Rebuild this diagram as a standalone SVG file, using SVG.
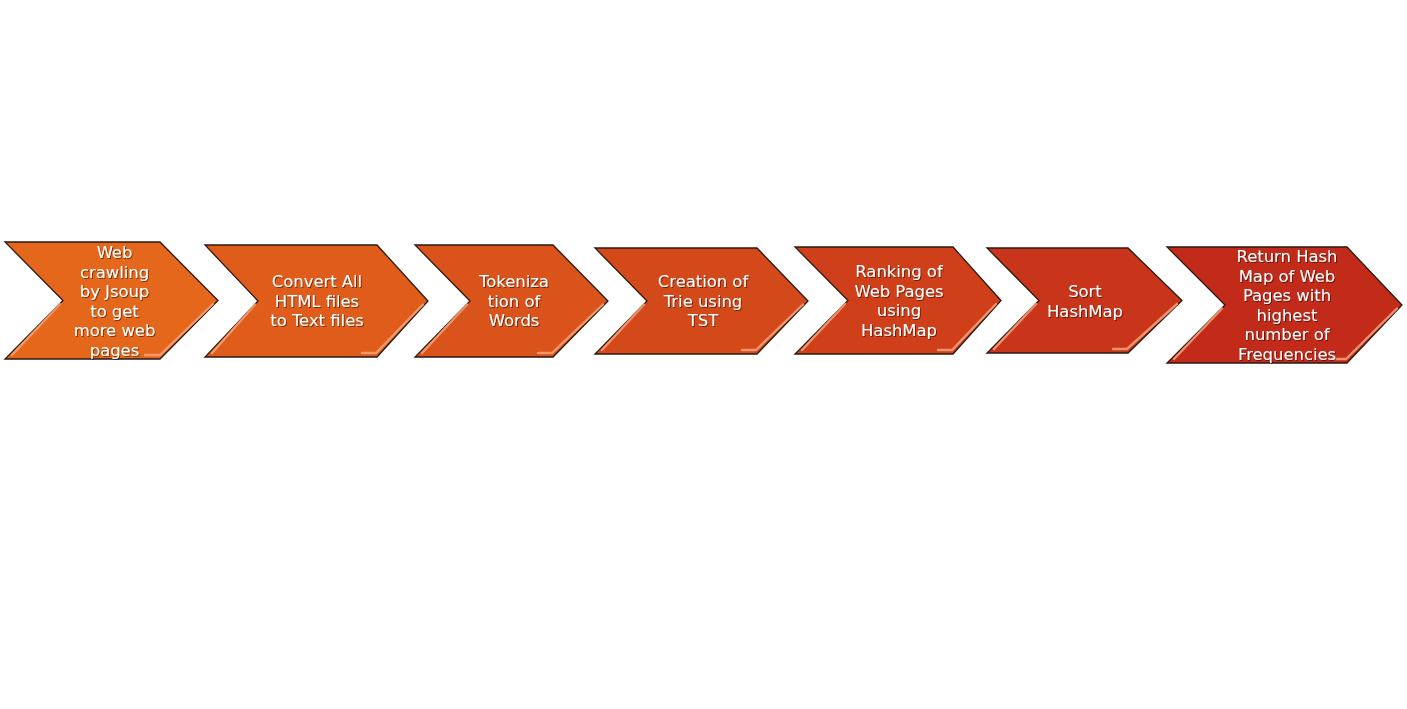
<svg xmlns="http://www.w3.org/2000/svg" width="1407" height="709" viewBox="0 0 1407 709">
<defs>
<filter id="ts" x="-10%" y="-10%" width="120%" height="130%">
<feDropShadow dx="1" dy="1" stdDeviation="0.6" flood-color="#000" flood-opacity="0.5"/>
</filter>
<style>
.chev{stroke:#2a1a12;stroke-width:1.3;stroke-linejoin:miter}
.hl{fill:none;stroke:#f7a27a;stroke-width:2.4;stroke-opacity:0.85;stroke-linecap:round}
.lbl{font-family:"DejaVu Sans","Liberation Sans",sans-serif;font-size:16.4px;fill:#ffffff;text-anchor:middle;filter:url(#ts)}
</style>
</defs>
<rect width="1407" height="709" fill="#ffffff"/>
<g id="connectors"></g>
<g id="node1">
<path class="chev" fill="#e4671c" d="M5,242 L160,242 L218,300.5 L160,359 L5,359 L63,300.5 Z"/>
<polyline class="hl" points="213,304 160,355 145,355"/>
<polyline class="hl" points="60,304 12,355"/>
<text class="lbl" x="114.5" y="258">Web</text>
<text class="lbl" x="114.5" y="277.5">crawling</text>
<text class="lbl" x="114.5" y="297">by Jsoup</text>
<text class="lbl" x="114.5" y="316.5">to get</text>
<text class="lbl" x="114.5" y="336">more web</text>
<text class="lbl" x="114.5" y="355.5">pages</text>
</g>
<g id="node2">
<path class="chev" fill="#df5c1b" d="M205,245 L377,245 L428,301 L377,357 L205,357 L258,301 Z"/>
<polyline class="hl" points="423,304.5 376,353 362,353"/>
<polyline class="hl" points="255,304.5 212,353"/>
<text class="lbl" x="317" y="287">Convert All</text>
<text class="lbl" x="317" y="306.5">HTML files</text>
<text class="lbl" x="317" y="326">to Text files</text>
</g>
<g id="node3">
<path class="chev" fill="#d9531b" d="M415,245 L553,245 L608,301 L553,357 L415,357 L470,301 Z"/>
<polyline class="hl" points="603,304.5 552,353 538,353"/>
<polyline class="hl" points="467,304.5 422,353"/>
<text class="lbl" x="514" y="287">Tokeniza</text>
<text class="lbl" x="514" y="306.5">tion of</text>
<text class="lbl" x="514" y="326">Words</text>
</g>
<g id="node4">
<path class="chev" fill="#d4491a" d="M595,248 L757,248 L808,301 L757,354 L595,354 L647,301 Z"/>
<polyline class="hl" points="803,304.5 756,350 742,350"/>
<polyline class="hl" points="644,304.5 602,350"/>
<text class="lbl" x="703" y="287">Creation of</text>
<text class="lbl" x="703" y="306.5">Trie using</text>
<text class="lbl" x="703" y="326">TST</text>
</g>
<g id="node5">
<path class="chev" fill="#cf3f1a" d="M795,247 L953,247 L1001,300.5 L953,354 L795,354 L848,300.5 Z"/>
<polyline class="hl" points="996,304 952,350 938,350"/>
<polyline class="hl" points="845,304 802,350"/>
<text class="lbl" x="899" y="277">Ranking of</text>
<text class="lbl" x="899" y="296.5">Web Pages</text>
<text class="lbl" x="899" y="316">using</text>
<text class="lbl" x="899" y="335.5">HashMap</text>
</g>
<g id="node6">
<path class="chev" fill="#c9351a" d="M987,248 L1128,248 L1182,300.5 L1128,353 L987,353 L1039,300.5 Z"/>
<polyline class="hl" points="1177,304 1127,349 1113,349"/>
<polyline class="hl" points="1036,304 994,349"/>
<text class="lbl" x="1085" y="297">Sort</text>
<text class="lbl" x="1085" y="316.5">HashMap</text>
</g>
<g id="node7">
<path class="chev" fill="#c22b1a" d="M1167,247 L1347,247 L1402,305 L1347,363 L1167,363 L1225,305 Z"/>
<polyline class="hl" points="1397,308.5 1346,359 1332,359"/>
<polyline class="hl" points="1222,308.5 1174,359"/>
<text class="lbl" x="1287" y="262">Return Hash</text>
<text class="lbl" x="1287" y="281.5">Map of Web</text>
<text class="lbl" x="1287" y="301">Pages with</text>
<text class="lbl" x="1287" y="320.5">highest</text>
<text class="lbl" x="1287" y="340">number of</text>
<text class="lbl" x="1287" y="359.5">Frequencies</text>
</g>
</svg>
